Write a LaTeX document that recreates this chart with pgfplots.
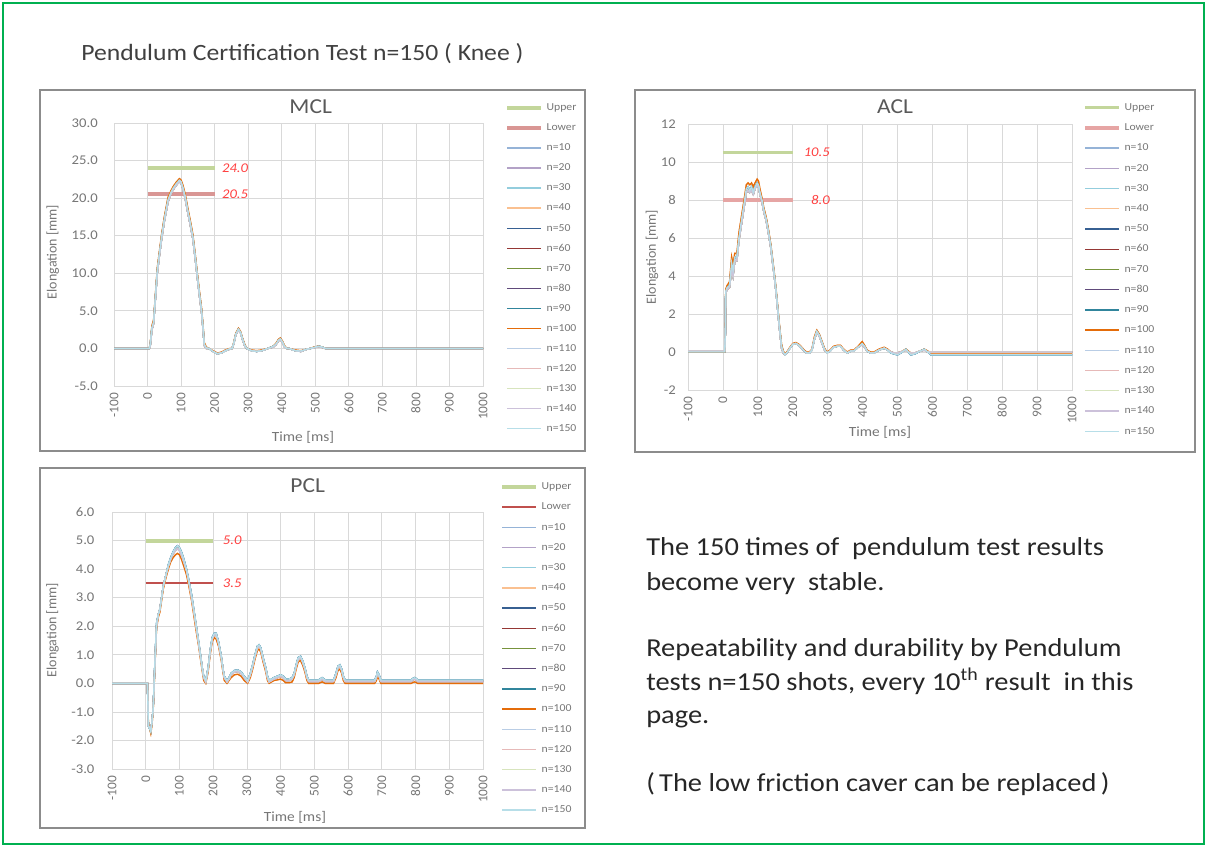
\documentclass[border=0pt]{standalone}
\usepackage{fontspec}
\setmainfont{Carlito}[FakeStretch=1.1]
\newfontfamily\rotf{Carlito}
\usepackage{pgfplots}
\pgfplotsset{compat=1.18}
\usepackage{pgfplotstable}

\definecolor{gridc}{HTML}{D9D9D9}
\definecolor{tickc}{HTML}{767676}
\definecolor{titc}{HTML}{595959}
\definecolor{boxc}{HTML}{8C8C8C}
\definecolor{frame}{HTML}{00B050}
\definecolor{valc}{HTML}{FF4040}
\definecolor{upc}{HTML}{C3D69B}
\definecolor{upd}{HTML}{9BBB59}
\definecolor{lowp}{HTML}{D99694}
\definecolor{lowq}{HTML}{E6A5A4}
\definecolor{lowr}{HTML}{C0504D}
\definecolor{c10}{HTML}{95B3D7}
\definecolor{c20}{HTML}{B3A2C7}
\definecolor{c30}{HTML}{93CDDD}
\definecolor{c40}{HTML}{FAC090}
\definecolor{c50}{HTML}{376092}
\definecolor{c60}{HTML}{953735}
\definecolor{c70}{HTML}{77933C}
\definecolor{c80}{HTML}{604A7B}
\definecolor{c90}{HTML}{31859C}
\definecolor{c100}{HTML}{E46C0A}
\definecolor{c110}{HTML}{B9CDE5}
\definecolor{c120}{HTML}{E6B9B8}
\definecolor{c130}{HTML}{D7E4BD}
\definecolor{c140}{HTML}{CCC1DA}
\definecolor{c150}{HTML}{B7DEE8}

\pgfplotstableread{
t a b c
-100 0 0 0
0 0 0 0
5 0 0 0
8 0.5 0.6 0.3
13 2.8 3.0 2.5
18 3.5 3.8 3.3
22 6.0 6.3 5.7
29 10.4 10.7 10.0
35 12.5 12.8 12.2
42 14.9 15.2 14.6
50 17.2 17.5 16.9
61 19.8 20.1 19.5
70 20.8 21.0 20.6
76 21.3 21.5 21.1
85 21.9 22.1 21.7
95 22.4 22.6 22.2
100 22.2 22.4 22.0
105 21.5 21.8 21.3
112 20.3 20.6 20.0
120 18.4 18.7 18.1
128 16.6 16.9 16.3
135 14.9 15.2 14.6
142 12.3 12.6 12.0
149 9.5 9.8 9.2
155 7.2 7.5 6.9
161 5.1 5.4 4.8
166 2.5 2.8 2.2
169 0.6 0.8 0.4
175 0.1 0.2 0.0
183 0 0 0
195 -0.4 -0.3 -0.4
208 -0.7 -0.6 -0.7
220 -0.6 -0.5 -0.6
232 -0.3 -0.2 -0.3
245 -0.05 0 -0.1
252 0 0 0
257 0.7 0.8 0.6
263 1.9 2.0 1.8
271 2.6 2.7 2.5
277 2.2 2.3 2.1
283 1.3 1.4 1.2
290 0.4 0.5 0.3
296 0 0 0
310 -0.3 -0.2 -0.3
325 -0.4 -0.3 -0.4
340 -0.3 -0.2 -0.3
359 0 0 0
375 0.3 0.3 0.2
383 0.6 0.7 0.5
390 1.1 1.2 1.0
396 1.3 1.4 1.2
402 0.9 1.0 0.8
408 0.3 0.4 0.2
415 0 0 0
422 0 0 0
440 -0.3 -0.2 -0.3
457 -0.35 -0.3 -0.4
475 -0.1 -0.1 -0.1
486 0 0 0
497 0.15 0.2 0.1
510 0.3 0.3 0.25
520 0.2 0.2 0.15
530 0 0 0
583 0 0 0
1000 0 0 0
}\mcl

\pgfplotstableread{
t a b c
-100 0 0 0.05
0 0 0 0.05
5 0 0 0.05
7 1.0 1.2 0.9
8 3.2 3.3 3.1
12 3.4 3.5 3.3
19 3.5 3.7 3.4
25 4.7 5.0 4.4
29 4.3 4.6 4.0
34 5.0 5.2 4.8
40 5.0 5.2 4.8
46 6.0 6.3 5.9
52 6.8 7.0 6.6
58 7.5 7.7 7.3
63 8.1 8.3 7.9
67 8.6 8.8 8.4
72 8.7 8.9 8.5
77 8.5 8.8 8.4
82 8.7 8.9 8.5
87 8.4 8.7 8.3
92 8.7 8.9 8.6
98 8.9 9.1 8.8
102 8.8 9.0 8.7
106 8.4 8.6 8.3
112 8.0 8.1 7.9
117 7.5 7.6 7.4
124 7.0 7.1 6.9
130 6.4 6.5 6.3
137 5.6 5.7 5.5
143 4.7 4.8 4.6
149 3.8 3.9 3.7
154 2.9 3.0 2.8
161 1.5 1.6 1.4
168 0.3 0.4 0.2
173 0 0.05 -0.05
178 -0.15 -0.1 -0.15
185 0 0.05 0
192 0.2 0.25 0.2
200 0.4 0.45 0.4
209 0.45 0.5 0.45
218 0.35 0.4 0.35
226 0.2 0.25 0.2
233 0.05 0.1 0.05
240 -0.05 0 -0.05
248 -0.05 0 -0.05
255 0.1 0.15 0.1
262 0.7 0.8 0.65
269 1.1 1.15 1.05
276 0.9 0.95 0.85
284 0.5 0.55 0.45
291 0.15 0.2 0.1
298 -0.05 0 -0.05
307 0.05 0.1 0.05
317 0.25 0.3 0.25
327 0.3 0.35 0.3
337 0.3 0.35 0.3
346 0.1 0.15 0.1
356 -0.05 0 -0.05
366 0.05 0.1 0.05
375 0.05 0.1 0.05
387 0.25 0.3 0.25
399 0.45 0.55 0.4
406 0.3 0.35 0.25
413 0.05 0.1 0.05
423 -0.05 0 -0.05
433 -0.05 0 -0.05
447 0.1 0.15 0.1
462 0.2 0.25 0.2
472 0.1 0.15 0.1
481 -0.05 0 0
490 -0.1 -0.05 -0.05
500 -0.15 -0.05 -0.05
510 -0.05 0 0
524 0.15 0.15 0.1
531 0 0.05 0
538 -0.15 -0.05 -0.05
550 -0.1 -0.05 -0.05
565 0.05 0.05 0.05
577 0.15 0.15 0.1
587 0 0.05 0
596 -0.15 -0.05 0
1000 -0.15 -0.05 0
}\acl

\pgfplotstableread{
t a b c
-100 0 0 0
0 0 0 0
5 0 0 0
8 -1.5 -1.4 -1.5
12 -1.6 -1.6 -1.55
15 -1.7 -1.75 -1.65
18 -1.4 -1.5 -1.4
22 -0.9 -1.0 -0.9
27 0.7 0.5 0.6
32 2.1 1.9 2.0
37 2.4 2.3 2.4
42 2.6 2.5 2.6
47 3.0 2.9 3.0
52 3.4 3.3 3.4
60 3.8 3.7 3.8
67 4.15 4.0 4.1
74 4.4 4.25 4.35
81 4.6 4.4 4.55
88 4.75 4.5 4.65
94 4.82 4.55 4.72
100 4.75 4.5 4.65
106 4.6 4.35 4.5
113 4.35 4.1 4.25
121 4.0 3.8 3.95
128 3.6 3.4 3.55
136 3.1 2.9 3.0
143 2.55 2.35 2.5
150 2.0 1.8 1.95
157 1.45 1.3 1.4
163 0.95 0.8 0.9
168 0.5 0.4 0.5
172 0.25 0.1 0.2
178 0.1 0 0.05
185 0.55 0.4 0.5
191 1.15 1.0 1.1
197 1.6 1.45 1.55
203 1.75 1.6 1.7
209 1.75 1.55 1.7
216 1.45 1.3 1.4
224 0.95 0.8 0.9
229 0.5 0.4 0.5
233 0.25 0.1 0.2
241 0.1 0 0.05
247 0.2 0.1 0.15
253 0.35 0.2 0.3
263 0.45 0.3 0.4
273 0.47 0.32 0.42
283 0.4 0.25 0.35
292 0.25 0.1 0.2
302 0.1 0 0.05
310 0.35 0.2 0.3
317 0.65 0.5 0.6
324 1.0 0.85 0.95
331 1.3 1.15 1.25
336 1.35 1.2 1.3
341 1.25 1.1 1.2
348 0.9 0.75 0.85
356 0.55 0.4 0.5
361 0.25 0.1 0.2
366 0.1 0 0.05
373 0.15 0.05 0.1
380 0.2 0.1 0.15
390 0.25 0.12 0.2
400 0.3 0.15 0.25
408 0.25 0.1 0.2
415 0.15 0.02 0.1
425 0.15 0.02 0.1
434 0.2 0.05 0.15
440 0.35 0.2 0.3
446 0.65 0.5 0.6
452 0.9 0.75 0.85
459 0.95 0.8 0.9
465 0.8 0.65 0.75
472 0.55 0.4 0.5
478 0.25 0.1 0.2
483 0.12 0 0.07
500 0.12 0 0.07
513 0.12 0 0.07
523 0.2 0.05 0.15
532 0.12 0 0.07
557 0.12 0 0.07
564 0.35 0.2 0.3
570 0.6 0.45 0.55
576 0.65 0.5 0.6
581 0.5 0.35 0.45
586 0.25 0.1 0.2
591 0.12 0 0.07
679 0.12 0 0.07
684 0.25 0.1 0.2
687 0.4 0.25 0.35
692 0.3 0.15 0.25
697 0.12 0 0.07
787 0.12 0 0.07
792 0.17 0.03 0.12
797 0.2 0.05 0.15
802 0.17 0.03 0.12
806 0.12 0 0.07
1000 0.12 0 0.07
}\pcl

\pgfplotsset{
  panel/.style={
    scale only axis, xmin=-100, xmax=1000, xtick={-100,0,...,1000},
    grid=major, grid style={draw=gridc, line width=0.6pt},
    axis line style={draw=gridc, line width=0.6pt},
    major tick length=0pt,
    /pgf/number format/assume math mode=true,
    /pgf/number format/1000 sep={},
    tick label style={font=\fontsize{10}{12}\selectfont, text=tickc},
    xticklabel style={font=\rotf\fontsize{10}{12}\selectfont, rotate=90, anchor=east, inner xsep=5pt},
    xlabel={Time [ms]}, ylabel={Elongation [mm]},
    xlabel style={font=\fontsize{10.5}{12}\selectfont, text=tickc, anchor=center},
    ylabel style={font=\rotf\fontsize{10.5}{12}\selectfont, text=tickc, anchor=center},
    legend cell align=left,
    legend style={draw=none, fill=none, inner sep=0pt, font=\fontsize{8}{9}\selectfont, text=tickc,
      nodes={inner sep=0pt, text height=6pt, text depth=1.8pt},
      /tikz/every odd column/.append style={column sep=3pt}},
    legend image code/.code={\draw[##1] (0pt,0pt) -- (25pt,0pt);},
  },
  s/.style={line width=1pt},
}
\tikzset{vlab/.style={font=\itshape\fontsize{10}{12}\selectfont, text=valc, inner sep=0pt}}

\newcommand{\allseries}[1]{%
  \addplot[s, c10] table[x=t,y=a]{#1}; \addlegendentry{n=10}
  \addplot[s, c20] table[x=t,y=c]{#1}; \addlegendentry{n=20}
  \addplot[s, c30] table[x=t,y=c]{#1}; \addlegendentry{n=30}
  \addplot[s, c40] table[x=t,y=b]{#1}; \addlegendentry{n=40}
  \addplot[s, c50] table[x=t,y=a]{#1}; \addlegendentry{n=50}
  \addplot[s, c60] table[x=t,y=c]{#1}; \addlegendentry{n=60}
  \addplot[s, c70] table[x=t,y=c]{#1}; \addlegendentry{n=70}
  \addplot[s, c80] table[x=t,y=c]{#1}; \addlegendentry{n=80}
  \addplot[s, c90] table[x=t,y=a]{#1}; \addlegendentry{n=90}
  \addplot[s, c100] table[x=t,y=b]{#1}; \addlegendentry{n=100}
  \addplot[s, c110] table[x=t,y=c]{#1}; \addlegendentry{n=110}
  \addplot[s, c120] table[x=t,y=c]{#1}; \addlegendentry{n=120}
  \addplot[s, c130] table[x=t,y=c]{#1}; \addlegendentry{n=130}
  \addplot[s, c140] table[x=t,y=c]{#1}; \addlegendentry{n=140}
  \addplot[s, c150] table[x=t,y=a]{#1}; \addlegendentry{n=150}
}

\begin{document}
\begin{tikzpicture}
% page size
\path (0pt,0pt) rectangle (905.25pt,-635.25pt);
% outer green frame
\draw[frame, line width=1.6pt] (2.25pt,-2.25pt) rectangle (903pt,-633pt);
% panel boxes
\draw[boxc, line width=0.9pt] (30pt,-67.5pt) rectangle (438.75pt,-338.25pt);
\draw[boxc, line width=0.9pt] (476.25pt,-67.5pt) rectangle (896.25pt,-339pt);
\draw[boxc, line width=0.9pt] (30pt,-351pt) rectangle (438.75pt,-621pt);

% page title
\node[anchor=base west, inner sep=0pt, font=\fontsize{17.5}{20}\selectfont, text=black!75] at (60.75pt,-45pt) {Pendulum Certification Test n=150 ( Knee )};

% panel titles
\node[anchor=base, inner sep=0pt, font=\fontsize{16}{18}\selectfont, text=titc] at (233pt,-84.75pt) {MCL};
\node[anchor=base, inner sep=0pt, font=\fontsize{16}{18}\selectfont, text=titc] at (671.25pt,-85pt) {ACL};
\node[anchor=base, inner sep=0pt, font=\fontsize{16}{18}\selectfont, text=titc] at (230.8pt,-369.5pt) {PCL};

% ---------- MCL ----------
\begin{axis}[panel, at={(85.5pt,-289.5pt)}, anchor=south west,
  width=276.75pt, height=197.25pt,
  ymin=-5, ymax=30, ytick={-5,0,...,30},
  yticklabel style={/pgf/number format/.cd, fixed, fixed zerofill, precision=1, /tikz/.cd, inner xsep=12pt},
  xlabel style={at={(axis description cs:0.512,-0.194)}},
  ylabel style={at={(axis description cs:-0.166,0.51)}},
  legend style={at={(1.0596,1.078)}, anchor=north west, row sep=7.23pt}]
\addplot[upc, line width=3pt] coordinates {(0,24) (200,24)}; \addlegendentry{Upper}
\addplot[lowp, line width=3pt] coordinates {(0,20.5) (200,20.5)}; \addlegendentry{Lower}
\allseries{\mcl}
\node[vlab, anchor=east, xshift=25.3pt] at (axis cs:200,24) {24.0};
\node[vlab, anchor=east, xshift=25.3pt] at (axis cs:200,20.5) {20.5};
\end{axis}

% ---------- ACL ----------
\begin{axis}[panel, at={(516pt,-292.5pt)}, anchor=south west,
  width=288pt, height=199.5pt,
  ymin=-2, ymax=12, ytick={-2,0,...,12},
  yticklabel style={inner xsep=9pt},
  xlabel style={at={(axis description cs:0.5,-0.158)}},
  ylabel style={at={(axis description cs:-0.094,0.5)}},
  legend style={at={(1.0286,1.0823)}, anchor=north west, row sep=7.37pt}]
\addplot[upc, line width=2.2pt] coordinates {(0,10.5) (200,10.5)}; \addlegendentry{Upper}
\addplot[lowq, line width=3pt] coordinates {(0,8) (200,8)}; \addlegendentry{Lower}
\allseries{\acl}
\node[vlab, anchor=east, xshift=28pt] at (axis cs:200,10.5) {10.5};
\node[vlab, anchor=east, xshift=28pt] at (axis cs:200,8) {8.0};
\end{axis}

% ---------- PCL ----------
\begin{axis}[panel, at={(84pt,-576.75pt)}, anchor=south west,
  width=278.25pt, height=192.75pt,
  ymin=-3, ymax=6, ytick={-3,-2,...,6},
  yticklabel style={/pgf/number format/.cd, fixed, fixed zerofill, precision=1, /tikz/.cd, inner xsep=13pt},
  xlabel style={at={(axis description cs:0.493,-0.187)}},
  ylabel style={at={(axis description cs:-0.16,0.54)}},
  legend style={at={(1.046,1.119)}, anchor=north west, row sep=7.35pt}]
\addplot[upc, line width=3pt] coordinates {(0,5) (200,5)}; \addlegendentry{Upper}
\addplot[lowr, line width=1.5pt] coordinates {(0,3.5) (200,3.5)}; \addlegendentry{Lower}
\allseries{\pcl}
\node[vlab, anchor=east, xshift=21.4pt] at (axis cs:200,5) {5.0};
\node[vlab, anchor=east, xshift=21.4pt] at (axis cs:200,3.5) {3.5};
\end{axis}

% ---------- text block ----------
\begin{scope}[every node/.style={anchor=base west, inner sep=0pt, font=\fontsize{19.4}{22}\selectfont, text=black!85}]
\node at (484.5pt,-416.25pt) {The 150 times of \ pendulum test results};
\node at (484.5pt,-442.5pt) {become very \ stable.};
\node at (484.5pt,-492.5pt) {Repeatability and durability by Pendulum};
\node at (484.5pt,-518pt) {tests n=150 shots, every 10\textsuperscript{th} result \ in this};
\node at (484.5pt,-542.25pt) {page.};
\node at (484.5pt,-593.75pt) {(\,The low friction caver can be replaced\,)};
\end{scope}
\end{tikzpicture}
\end{document}
